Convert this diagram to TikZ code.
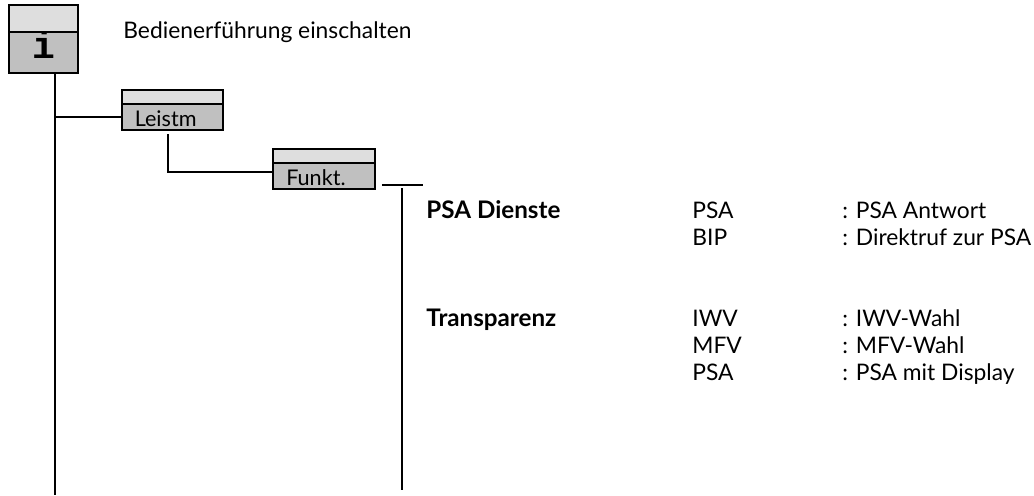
\documentclass[tikz,border=0pt]{standalone}
\usepackage{fontspec}
\setmainfont{Lato}
\newfontfamily\keyfont{Liberation Mono}
\usetikzlibrary{positioning}

\definecolor{bandgray}{HTML}{DEDEDE}
\definecolor{keygray}{HTML}{C0C0C0}

\tikzset{
    band/.style={draw, line width=1pt, fill=bandgray, inner sep=0pt, outer sep=0pt},
    menukey/.style={draw, line width=1pt, fill=keygray, minimum width=50.75pt, minimum height=13.25pt,
        outer sep=0pt, inner xsep=6.5pt, inner ysep=0pt, text width=37.75pt, align=left,
        text height=9.25pt, text depth=0pt, font=\fontsize{10.8}{12}\selectfont},
    trunk/.style={line width=0.75pt},
    heading/.style={anchor=base west, inner sep=0pt, font=\bfseries\fontsize{12.1}{14}\selectfont},
    entry/.style={anchor=base west, inner sep=0pt, font=\fontsize{11.4}{13}\selectfont},
}

\begin{document}
\begin{tikzpicture}[x=0.5pt, y=-0.5pt]
        \useasboundingbox (0,0) rectangle (1034,495);

        % 1. Info-Taste
        \node[draw, line width=1pt, fill=keygray, minimum width=34.5pt, minimum height=20.5pt,
              inner sep=0pt, outer sep=0pt, text height=5.5pt, text depth=0pt,
              font=\keyfont\bfseries\fontsize{19}{19}\selectfont]
              (ikey) at (43.5,52.5) {i};
        \node[band, minimum width=34.5pt, minimum height=13.5pt, above=0pt of ikey] (itop) {};
        \node[entry] (intro) at (123,38) {Bedienerführung einschalten};

        % 2. Menuetasten
        \node[menukey] (leistm) at (172.5,116.75) {Leistm};
        \node[band, minimum width=50.75pt, minimum height=6.75pt, above=0pt of leistm] (leistmtop) {};
        \node[menukey] (funkt) at (324,175.75) {Funkt.};
        \node[band, minimum width=50.75pt, minimum height=6.75pt, above=0pt of funkt] (funkttop) {};

        % 3. Verbindungslinien
        \coordinate (trunkend) at (55,495);
        \coordinate (subend) at (402,490);
        \draw[trunk] (ikey.south -| trunkend) -- (trunkend);
        \draw[trunk] (leistm.west) -- (leistm.west -| trunkend);
        \draw[trunk] ([xshift=-2.25pt,yshift=-2pt]leistm.south) |- ([yshift=2pt]funkt.west);
        \draw[trunk] ([xshift=3.5pt,yshift=2pt]funkt.south east) coordinate (branch) -- ++(20.5pt,0);
        \draw[trunk] ([yshift=-1.5pt]branch -| subend) -- (subend);

        % 4. Funktionsgruppen
        \node[heading] (dienste) at (426,218) {PSA Dienste};
        \node[heading] (transparenz) at (426,326) {Transparenz};

        % 5. Kennungen und Bedeutung
        \foreach \row/\code/\desc in {218/PSA/PSA Antwort, 245/BIP/Direktruf zur PSA,
                326/IWV/IWV-Wahl, 353/MFV/MFV-Wahl, 380/PSA/PSA mit Display} {
            \node[entry] (code\row) at (692,\row) {\code};
            \node[entry] (desc\row) at (842,\row) {: \desc};
        }
\end{tikzpicture}
\end{document}
